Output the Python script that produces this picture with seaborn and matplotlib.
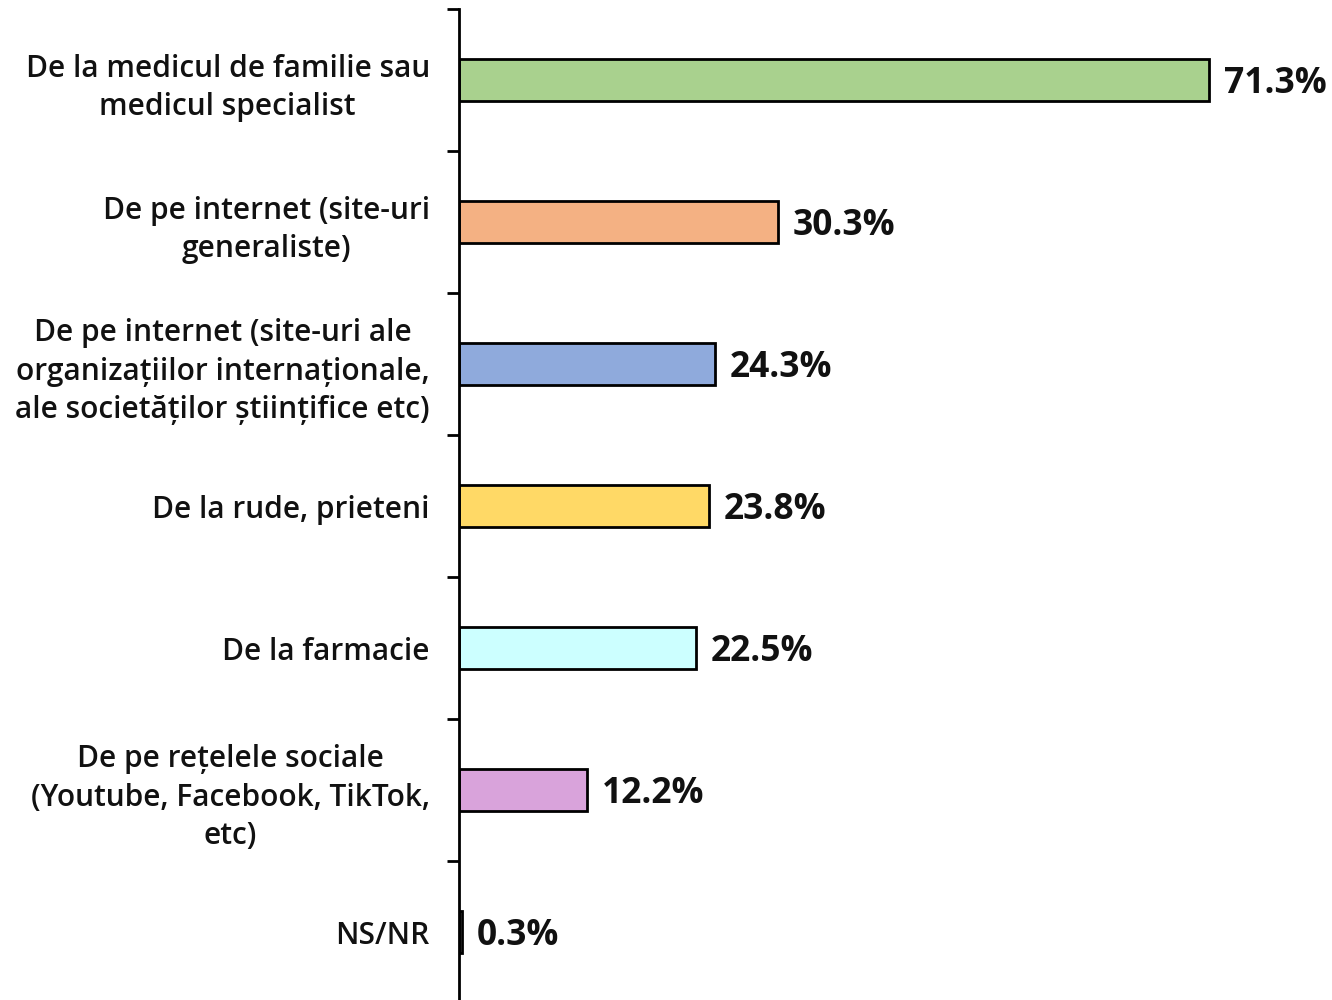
import pandas as pd
import numpy as np
import seaborn as sns
import matplotlib.pyplot as plt

# Data
categories = [
    "De la medicul de familie sau\nmedicul specialist",
    "De pe internet (site-uri\ngeneraliste)",
    "De pe internet (site-uri ale\norganizațiilor internaționale,\nale societăților științifice etc)",
    "De la rude, prieteni",
    "De la farmacie",
    "De pe rețelele sociale\n(Youtube, Facebook, TikTok,\netc)",
    "NS/NR",
]
values = [71.3, 30.3, 24.3, 23.8, 22.5, 12.2, 0.3]
colors = ["#a9d18e", "#f4b183", "#8faadc", "#ffd966", "#ccffff", "#d9a3db", "#ffffff"]

df = pd.DataFrame({"categorie": categories, "procent": values})

sns.set_style("white")
plt.rcParams["font.family"] = ["Open Sans", "DejaVu Sans"]

fig = plt.figure(figsize=(13.32, 10), dpi=100)
ax = fig.add_axes([0.3446, -0.003, 0.6554, 0.994])

sns.barplot(data=df, y="categorie", x="procent", hue="categorie", palette=colors,
            saturation=1, orient="h", width=0.3, edgecolor="black", linewidth=2,
            legend=False, ax=ax)

ax.set_xlim(0, 83)
ax.set_ylim(6.5, -0.5)
ax.set_xlabel("")
ax.set_ylabel("")
ax.set_xticks([])

for s in ["top", "right", "bottom"]:
    ax.spines[s].set_visible(False)
ax.spines["left"].set_linewidth(2)
ax.spines["left"].set_color("black")

# labels at bar centres, ticks at category boundaries
ax.set_yticks(range(len(categories)))
ax.set_yticklabels(categories, fontsize=21.5, fontweight="semibold", ha="right",
                   multialignment="center", linespacing=1.36, color="#111111")
ax.tick_params(axis="y", which="major", length=0, pad=21)
ax.set_yticks(np.arange(-0.5, len(categories), 1), minor=True)
ax.tick_params(axis="y", which="minor", length=9, width=2, color="black", left=True)

for i, v in enumerate(values):
    ax.text(v + 1.4, i + 0.03, f"{v}%", va="center", ha="left", fontsize=25.5,
            fontweight="bold", color="#111111")

fig.savefig("out.png", dpi=100)
